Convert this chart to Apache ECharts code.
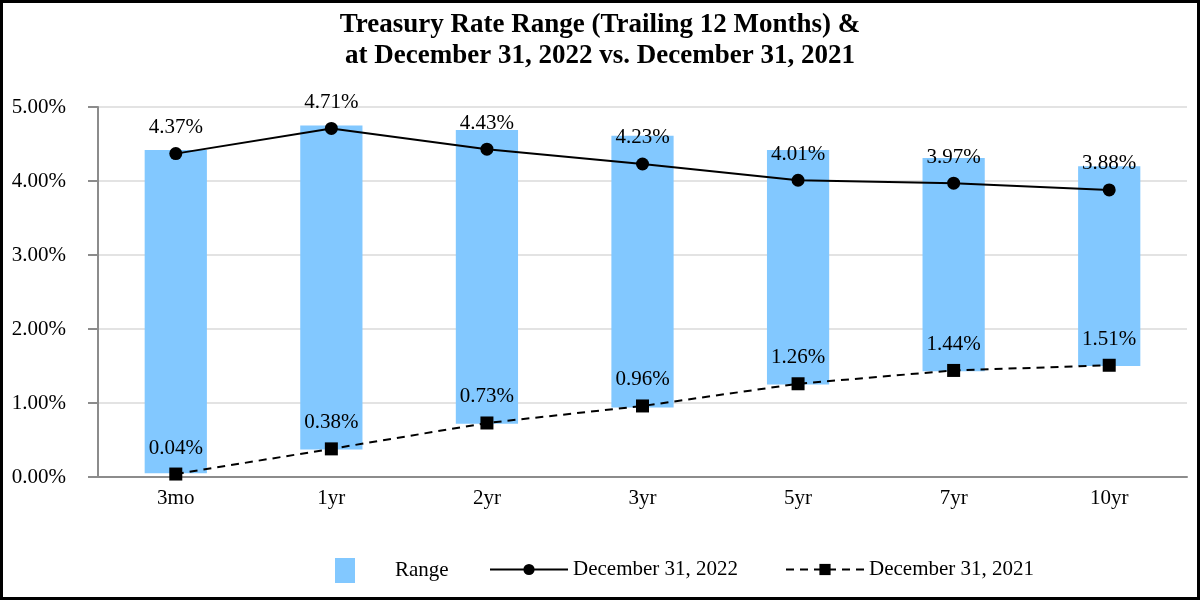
<!DOCTYPE html>
<html>
<head>
<meta charset="utf-8">
<script src="https://cdn.jsdelivr.net/npm/echarts@6/dist/echarts.min.js"></script>
<style>
html,body{margin:0;padding:0;background:#fff;}
#chart{width:1200px;height:600px;}
</style>
</head>
<body>
<div id="chart"></div>
<script>
const categories = ['3mo', '1yr', '2yr', '3yr', '5yr', '7yr', '10yr'];
const rangeLow  = [0.05, 0.37, 0.72, 0.94, 1.25, 1.43, 1.50];
const rangeHigh = [4.42, 4.75, 4.69, 4.61, 4.42, 4.31, 4.20];
const dec2022 = [4.37, 4.71, 4.43, 4.23, 4.01, 3.97, 3.88];
const dec2021 = [0.04, 0.38, 0.73, 0.96, 1.26, 1.44, 1.51];
const yTicks = { min: 0, max: 5, interval: 1 };

const FONT = '"Liberation Serif", "Times New Roman", serif';
const pct = v => v.toFixed(2) + '%';

const chart = echarts.init(document.getElementById('chart'), null, { renderer: 'canvas' });
chart.setOption({
  animation: false,
  backgroundColor: '#ffffff',
  textStyle: { fontFamily: FONT, color: '#000' },
  graphic: [{
    type: 'rect', silent: true, z: 100,
    shape: { x: 1.5, y: 1.5, width: 1197, height: 597 },
    style: { fill: 'none', stroke: '#000', lineWidth: 3 }
  }],
  title: {
    text: 'Treasury Rate Range (Trailing 12 Months) &\nat December 31, 2022 vs. December 31, 2021',
    left: 'center', top: 5,
    textStyle: { fontFamily: FONT, fontWeight: 'bold', fontSize: 27, lineHeight: 31, color: '#000' }
  },
  legend: [
    { data: ['Range'], left: 330, top: 553, itemWidth: 20, itemHeight: 25, icon: 'rect',
      textStyle: { fontFamily: FONT, fontSize: 21, color: '#000', padding: [0, 0, 0, 35] } },
    { data: ['December 31, 2022'], left: 484, top: 554, itemWidth: 78, itemHeight: 14,
      textStyle: { fontFamily: FONT, fontSize: 21, color: '#000', padding: [0, 0, 0, 0] } },
    { data: ['December 31, 2021'], left: 780, top: 554, itemWidth: 78, itemHeight: 14,
      textStyle: { fontFamily: FONT, fontSize: 21, color: '#000', padding: [0, 0, 0, 0] } }
  ],
  grid: { left: 98, right: 13, top: 107, bottom: 123, containLabel: false },
  xAxis: {
    type: 'category', data: categories, boundaryGap: true,
    axisLine: { lineStyle: { color: '#8c8c8c', width: 2 } },
    axisTick: { alignWithLabel: true, length: 11, lineStyle: { color: '#8c8c8c', width: 2 } },
    axisLabel: { fontFamily: FONT, fontSize: 21, color: '#000', margin: 11 }
  },
  yAxis: {
    type: 'value', min: yTicks.min, max: yTicks.max, interval: yTicks.interval,
    axisLine: { show: true, lineStyle: { color: '#8c8c8c', width: 2 } },
    axisTick: { show: true, length: 10, lineStyle: { color: '#8c8c8c', width: 2 } },
    splitLine: { lineStyle: { color: '#e3e3e3', width: 2 } },
    axisLabel: { fontFamily: FONT, fontSize: 21, color: '#000', margin: 32, formatter: v => pct(v) }
  },
  series: [
    { name: 'base', type: 'bar', stack: 'r', data: rangeLow, barWidth: '40%',
      itemStyle: { color: 'rgba(0,0,0,0)' }, silent: true },
    { name: 'Range', type: 'bar', stack: 'r', barWidth: '40%',
      data: rangeHigh.map((h, i) => +(h - rangeLow[i]).toFixed(2)),
      itemStyle: { color: '#82C8FF' } },
    { name: 'December 31, 2022', type: 'line', data: dec2022,
      symbol: 'circle', symbolSize: 13,
      lineStyle: { color: '#000', width: 2 }, itemStyle: { color: '#000' },
      label: { show: true, position: 'top', distance: 9, fontFamily: FONT, fontSize: 21, color: '#000',
               formatter: p => pct(p.value) } },
    { name: 'December 31, 2021', type: 'line', data: dec2021,
      symbol: 'rect', symbolSize: 13,
      lineStyle: { color: '#000', width: 2, type: [8, 6] }, itemStyle: { color: '#000' },
      label: { show: true, position: 'top', distance: 9, fontFamily: FONT, fontSize: 21, color: '#000',
               formatter: p => pct(p.value) } }
  ]
});
</script>
</body>
</html>
